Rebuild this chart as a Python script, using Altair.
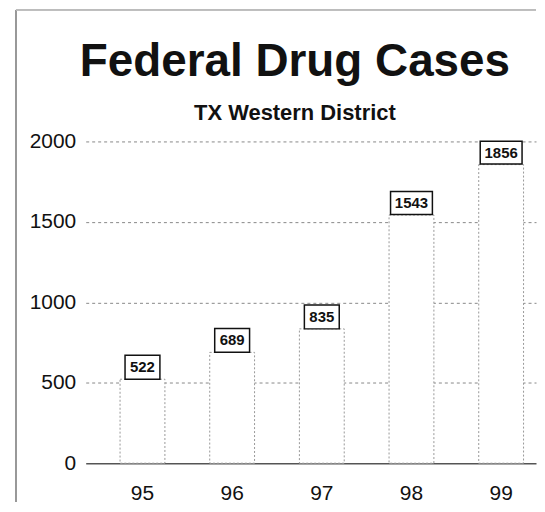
import altair as alt
import pandas as pd

years = ["95", "96", "97", "98", "99"]
cases = [522, 689, 835, 1543, 1856]
y_ticks = [0, 500, 1000, 1500, 2000]

df = pd.DataFrame({"year": years, "value": cases})

FONT = "Liberation Sans"
W, H = 452, 323

x_enc = alt.X(
    "year:N",
    sort=years,
    title="",
    scale=alt.Scale(paddingInner=0.5, paddingOuter=0.261, align=0.734),
    axis=alt.Axis(
        labelAngle=0,
        labelFontSize=21,
        labelFont=FONT,
        labelColor="#111",
        labelPadding=19,
        ticks=False,
        domain=False,
        grid=False,
    ),
)
y_enc = alt.Y(
    "value:Q",
    title="",
    scale=alt.Scale(domain=[0, 2000], nice=False),
    axis=alt.Axis(
        values=y_ticks,
        format="d",
        labelFontSize=21,
        labelFont=FONT,
        labelColor="#111",
        labelPadding=10,
        ticks=False,
        domain=False,
        grid=True,
        gridColor=alt.condition("datum.value == 0", alt.value("#555"), alt.value("#888")),
        gridDash=alt.condition("datum.value == 0", alt.value([]), alt.value([3, 3])),
        gridWidth=alt.condition("datum.value == 0", alt.value(1.5), alt.value(1)),
    ),
)

base = alt.Chart(df)

bars = base.mark_bar(
    fill="white", stroke="#999", strokeDash=[2, 2], strokeWidth=1
).encode(x=x_enc, y=y_enc)

path3 = "M-1,-0.686H1V0.686H-1Z"
path4 = "M-1,-0.548H1V0.548H-1Z"

boxes = base.mark_point(
    filled=True, fill="white", stroke="#111", strokeWidth=1.5, opacity=1, yOffset=-12
).encode(
    x=alt.X("year:N", sort=years),
    y="value:Q",
    shape=alt.condition("datum.value >= 1000", alt.value(path4), alt.value(path3)),
    size=alt.condition("datum.value >= 1000", alt.value(1764), alt.value(1225)),
)

labels = base.mark_text(
    font=FONT, fontSize=15, fontWeight="bold", color="#111", dy=-12, baseline="middle"
).encode(
    x=alt.X("year:N", sort=years),
    y="value:Q",
    text=alt.Text("value:Q", format="d"),
)

frame_left = alt.Chart(df).mark_rule(color="#999", strokeWidth=1.5).encode(
    x=alt.value(-70), y=alt.value(-132), y2=alt.value(362)
)
frame_top = alt.Chart(df).mark_rule(color="#bbb", strokeWidth=1).encode(
    x=alt.value(-70), x2=alt.value(W), y=alt.value(-132)
)

chart = (
    alt.layer(frame_left, frame_top, bars, boxes, labels)
    .properties(
        width=W,
        height=H,
        padding={"left": 7, "top": 0, "right": 0, "bottom": 0},
        title=alt.TitleParams(
            text="Federal Drug Cases",
            subtitle="TX Western District",
            font=FONT,
            fontSize=46,
            fontWeight="bold",
            color="#111",
            subtitleFont=FONT,
            subtitleFontSize=22,
            subtitleFontWeight="bold",
            subtitleColor="#111",
            subtitlePadding=17,
            anchor="middle",
            frame="group",
            dx=-16,
            offset=-116,
        ),
    )
    .configure_view(stroke=None)
)

chart.save("out.html", embed_options={"renderer": "svg", "actions": False})
